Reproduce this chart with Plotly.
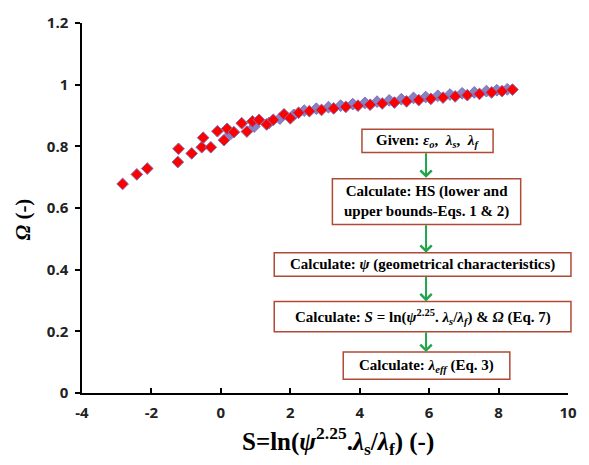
import plotly.graph_objects as go

# ---- data ----
s_red = [-2.83, -2.42, -2.12, -1.24, -1.22, -0.84, -0.55, -0.51, -0.29, -0.10, 0.09, 0.18,
         0.375, 0.60, 0.75, 0.91, 1.10, 1.32, 1.51, 1.82, 2.0, 2.24, 2.55, 2.9, 3.25, 3.6,
         3.95, 4.3, 4.65, 5.0, 5.35, 5.7, 6.05, 6.4, 6.75, 7.1, 7.45, 7.8, 8.1, 8.4]
omega_red = [0.678, 0.709, 0.728, 0.749, 0.792, 0.777, 0.797, 0.828, 0.797, 0.849, 0.820, 0.857,
             0.846, 0.875, 0.848, 0.881, 0.886, 0.871, 0.886, 0.904, 0.891, 0.909, 0.914, 0.918,
             0.923, 0.928, 0.932, 0.935, 0.939, 0.942, 0.946, 0.950, 0.954, 0.958, 0.962, 0.966,
             0.970, 0.975, 0.979, 0.984]

s_blue = [0.28, 0.96, 1.39, 1.7, 2.1, 2.4, 2.75, 3.1, 3.45, 3.8, 4.15, 4.5, 4.85, 5.2, 5.55,
          5.9, 6.25, 6.6, 6.95, 7.3, 7.65, 7.95, 8.25]
omega_blue = [0.840, 0.864, 0.876, 0.890, 0.902, 0.916, 0.922, 0.927, 0.932, 0.937, 0.941, 0.945,
              0.949, 0.953, 0.957, 0.960, 0.964, 0.968, 0.972, 0.975, 0.979, 0.982, 0.985]

x_ticks = [-4, -2, 0, 2, 4, 6, 8, 10]
y_ticks = [0, 0.2, 0.4, 0.6, 0.8, 1, 1.2]
y_tick_labels = ["0", "0.2", "0.4", "0.6", "0.8", "1", "1.2"]

steps = [
    "Given: <i>ε<sub>o</sub></i>,  <i>λ<sub>s</sub></i>,  <i>λ<sub>f</sub></i>",
    "Calculate: HS (lower and<br>upper bounds-Eqs. 1 & 2)",
    "Calculate: <i>ψ</i> (geometrical characteristics)",
    "Calculate: <i>S</i> = ln(<i>ψ</i><sup>2.25</sup>. <i>λ<sub>s</sub></i>/<i>λ<sub>f</sub></i>) & <i>Ω</i> (Eq. 7)",
    "Calculate: <i>λ<sub>eff</sub></i> (Eq. 3)",
]
# box pixel extents (left, top, right, bottom)
boxes_px = [(366, 122, 499, 146), (336, 173, 527, 220), (277, 249, 578, 273),
            (277, 299, 578, 330), (347, 351, 516, 379)]

SERIF = "Liberation Serif"
SANS = "Open Sans"

W, H = 589, 465
ML, MR, MT, MB = 82, 14, 13, 72
PW, PH = W - ML - MR, H - MT - MB


def px(xp):
    return (xp - ML) / PW


def py(yp):
    return (H - MB - yp) / PH


fig = go.Figure()
fig.add_trace(go.Scatter(x=s_blue, y=omega_blue, mode="markers",
                         marker=dict(symbol="diamond", size=9, color="#8a80c4",
                                     line=dict(color="#7a72b8", width=1)),
                         showlegend=False))
fig.add_trace(go.Scatter(x=s_red, y=omega_red, mode="markers",
                         marker=dict(symbol="diamond", size=9, color="#ff0000",
                                     line=dict(color="#7a72b8", width=1)),
                         showlegend=False))

shapes = []
annotations = []
for (l, t, r, b), txt in zip(boxes_px, steps):
    shapes.append(dict(type="rect", xref="paper", yref="paper",
                       x0=px(l), x1=px(r), y0=py(b), y1=py(t),
                       line=dict(color="#b04a36", width=1.5), fillcolor="white", layer="above"))
    annotations.append(dict(xref="paper", yref="paper", x=px((l + r) / 2), y=py((t + b) / 2),
                            text=txt, showarrow=False,
                            xanchor="center", yanchor="middle",
                            font=dict(family=SERIF, size=15, color="black", weight="bold")))

arrows = [(431, 146, 172), (431, 220, 249), (431, 273, 299), (431, 330, 351)]
for x, y0, y1 in arrows:
    annotations.append(dict(xref="paper", yref="paper", x=px(x), y=py(y1),
                            ax=0, ay=-(y1 - y0), axref="pixel", ayref="pixel",
                            text="", showarrow=True, arrowhead=4, arrowsize=1.1,
                            arrowwidth=2, arrowcolor="#1fa64a", standoff=0))

annotations.append(dict(xref="paper", yref="paper", x=px(342), y=py(442),
                        text="S=ln(<i>ψ</i><sup>2.25</sup>.<i>λ</i><sub>s</sub>/<i>λ</i><sub>f</sub>) (-)",
                        showarrow=False, xanchor="center", yanchor="middle",
                        font=dict(family=SERIF, size=25, color="black", weight="bold")))
annotations.append(dict(xref="paper", yref="paper", x=px(22), y=py(215),
                        text="<i>Ω</i> (-)", textangle=-90,
                        showarrow=False, xanchor="center", yanchor="middle",
                        font=dict(family=SERIF, size=21, color="black", weight="bold")))

fig.update_layout(
    width=W, height=H,
    margin=dict(l=ML, r=MR, t=MT, b=MB),
    plot_bgcolor="white", paper_bgcolor="white",
    shapes=shapes, annotations=annotations,
    xaxis=dict(range=[-4, 10], tickvals=x_ticks, ticktext=[str(v) for v in x_ticks],
               showgrid=False, zeroline=False, showline=True, linecolor="black", linewidth=1.5,
               ticks="inside", ticklen=5, tickwidth=1.5, tickcolor="black",
               tickfont=dict(family=SANS, size=15, color="#222", weight="bold"),
               ticklabelstandoff=5, fixedrange=True),
    yaxis=dict(range=[0, 1.2], tickvals=y_ticks, ticktext=y_tick_labels,
               showgrid=False, zeroline=False, showline=True, linecolor="black", linewidth=1.5,
               ticks="outside", ticklen=5, tickwidth=1.5, tickcolor="black",
               tickfont=dict(family=SANS, size=15, color="#222", weight="bold"),
               ticklabelstandoff=4, fixedrange=True),
)

fig.write_html("out.html", config={"displayModeBar": False},
               post_script="document.body.style.margin='0';")
